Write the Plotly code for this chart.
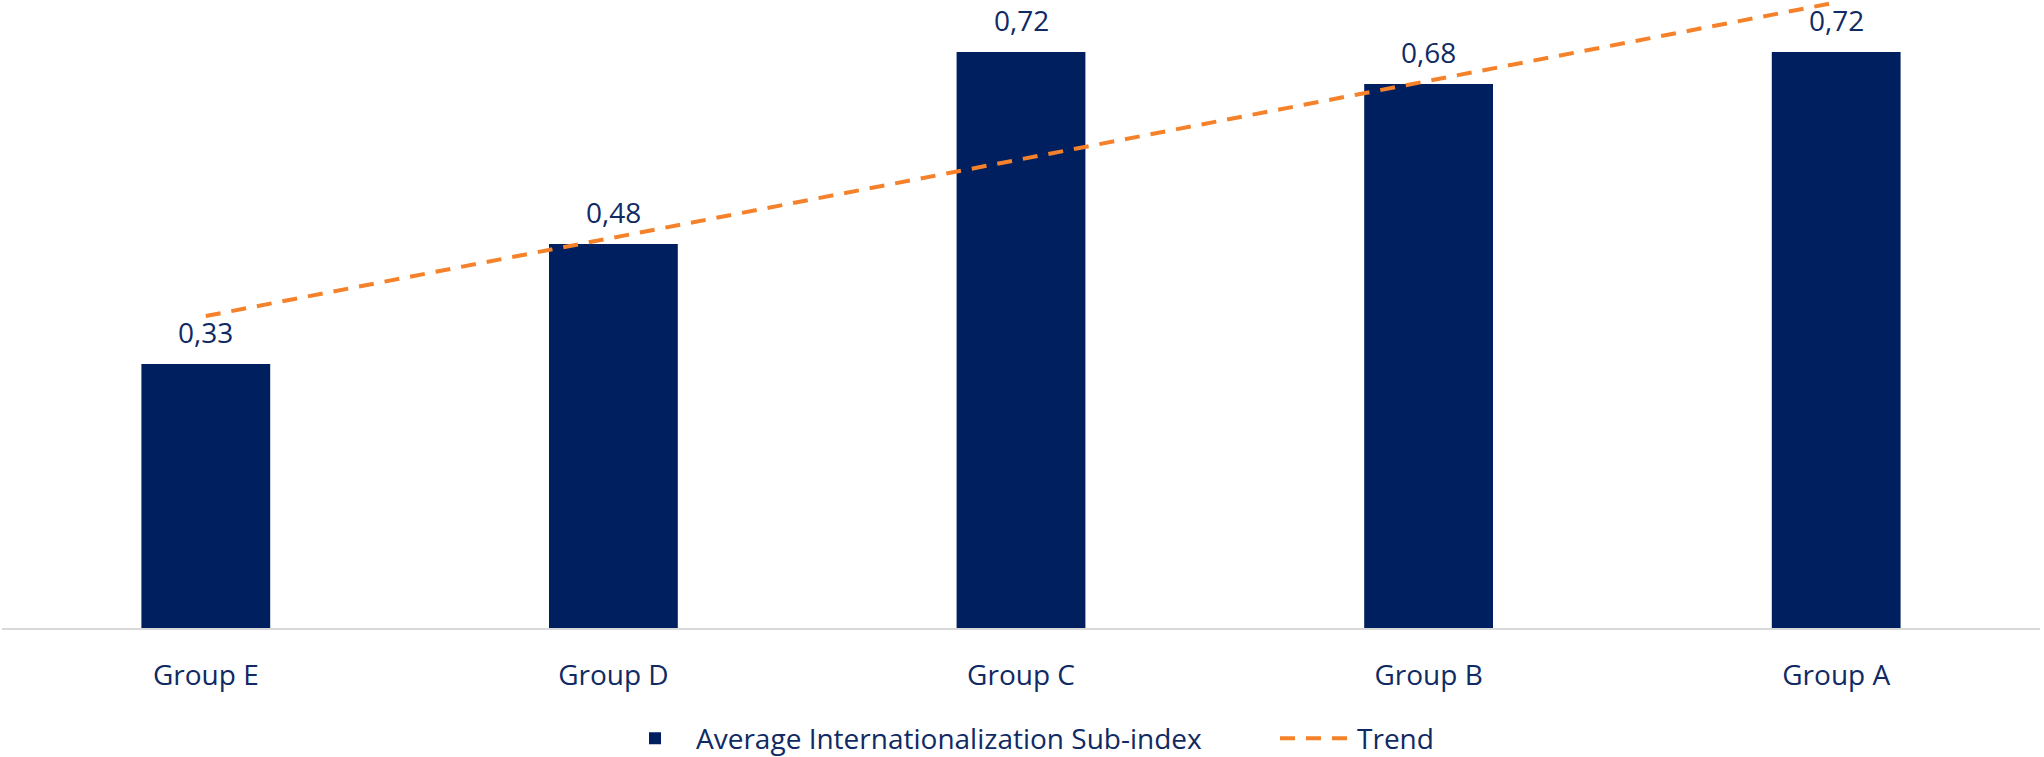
import plotly.graph_objects as go

categories = ["Group E", "Group D", "Group C", "Group B", "Group A"]
sub_index = [0.33, 0.48, 0.72, 0.68, 0.72]
trend = [0.390, 0.488, 0.586, 0.684, 0.782]

bar_color = "#001F5F"
text_color = "#102A63"
trend_color = "#F5822A"
font_family = "Open Sans, Noto Sans, sans-serif"

fig = go.Figure()
fig.add_trace(go.Bar(
    x=categories, y=sub_index,
    name="Average Internationalization Sub-index",
    marker=dict(color=bar_color, line=dict(width=0)),
    legendwidth=574,
    hoverinfo="skip",
))
fig.add_trace(go.Scatter(
    x=categories, y=trend,
    name="Trend", mode="lines",
    line=dict(color=trend_color, width=4, dash="15px,11px"),
    cliponaxis=False,
    hoverinfo="skip",
))

for c, v in zip(categories, sub_index):
    fig.add_annotation(
        x=c, y=v, text=f"{v:.2f}".replace(".", ","),
        showarrow=False, yanchor="bottom", yshift=11,
        font=dict(size=28, color=text_color, family=font_family),
    )

fig.update_layout(
    width=2044, height=757,
    margin=dict(l=2, r=4, t=0, b=129, autoexpand=False),
    plot_bgcolor="white", paper_bgcolor="white",
    bargap=0.684,
    showlegend=True,
    legend=dict(
        orientation="h", x=0.3003, xanchor="left",
        y=-0.176, yanchor="middle",
        font=dict(size=28, color=text_color, family=font_family),
        itemwidth=72,
    ),
    font=dict(family=font_family, color=text_color),
)
fig.update_xaxes(
    showline=True, linecolor="#D9D9D9", linewidth=2,
    showgrid=False, ticks="", ticklabelstandoff=21, automargin=False,
    tickfont=dict(size=28, color=text_color, family=font_family),
)
fig.update_yaxes(
    range=[0, 0.785], visible=False, showgrid=False, zeroline=False,
    automargin=False,
)

fig.write_html("out.html")
